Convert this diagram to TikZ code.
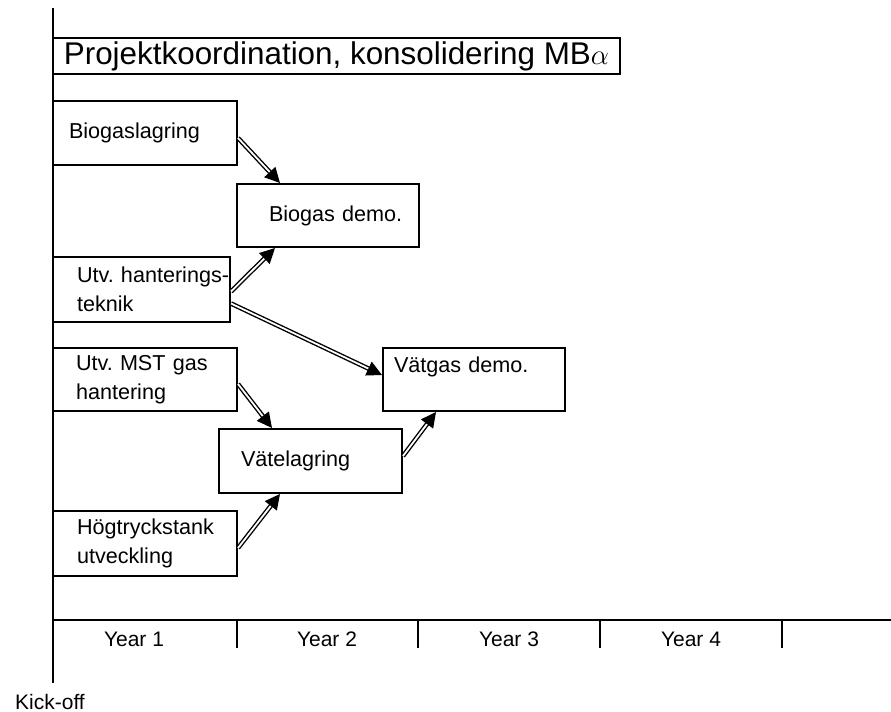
\documentclass[tikz,border=0pt]{standalone}
\usepackage{fontspec}
\setmainfont{Liberation Sans}
\usetikzlibrary{arrows.meta}

\tikzset{
  task/.style={draw, line width=1pt, rectangle, anchor=north west, align=left,
    inner ysep=0pt, font=\fontsize{10.8pt}{14.5pt}\selectfont\frenchspacing},
  link/.style={double, line width=0.7pt, double distance=0.9pt,
    -{Triangle[length=7.5pt,width=7.5pt]}},
  axis/.style={line width=1.3pt},
  tick/.style={line width=0.6pt},
  yearlabel/.style={font=\fontsize{10.5pt}{12pt}\selectfont, inner sep=1pt}
}

\begin{document}
\begin{tikzpicture}[x=0.5pt,y=-0.5pt]
	\useasboundingbox (0,0) rectangle (891,712);

	% time axes
	\coordinate (axTop) at (53,8);
	\coordinate (axBot) at (53,683);
	\coordinate (axLeft) at (53,620);
	\coordinate (axRight) at (891,620);
	\draw[axis] (axTop) -- (axBot);
	\draw[axis] (axLeft) -- (axRight);
	\foreach \x in {237,418,600,782}
		\draw[tick] (\x,620) -- (\x,648);
	\foreach \x/\n in {134/1,327/2,509/3,691/4}
		\node[yearlabel] (year\n) at (\x,639) {Year \n};
	\node[yearlabel] (kickoff) at (50,702) {Kick-off};

	% boxes
	\node[task, align=center, inner xsep=0pt, minimum width=283.5pt, minimum height=18pt,
		font=\fontsize{15.7pt}{18pt}\selectfont] (koord) at (52,37)
		{Projektkoordination, konsolidering MB$\alpha$};

	\node[task, inner xsep=8pt, text width=76pt, minimum height=32pt] (bioLager) at (52,100)
		{Biogaslagring};
	\node[task, inner xsep=16pt, text width=59pt, minimum height=31.5pt] (bioDemo) at (236,183)
		{\mbox{Biogas demo.}};
	\node[task, inner xsep=12pt, text width=64.5pt, minimum height=32.5pt] (hantering) at (52,256)
		{\mbox{Utv. hanterings-}\\teknik};
	\node[task, inner xsep=11.5pt, text width=69pt, minimum height=31.5pt] (mstGas) at (52,347)
		{\mbox{Utv. MST gas}\\hantering};
	\node[task, inner xsep=5.5pt, text width=80pt, minimum height=31.5pt] (vatgasDemo) at (382,347)
		{\mbox{Vätgas demo.}\\\mbox{}};
	\node[task, inner xsep=11pt, text width=69.5pt, minimum height=32pt] (vateLager) at (218,428)
		{Vätelagring};
	\node[task, inner xsep=12pt, text width=68pt, minimum height=32.5pt] (hogtryck) at (52,510)
		{\mbox{Högtryckstank}\\utveckling};

	% links
	\draw[link] ([yshift=-2.5pt]bioLager.east) -- ([xshift=22pt]bioDemo.north west);
	\draw[link] ([yshift=-1pt]hantering.east) -- ([xshift=19.5pt]bioDemo.south west);
	\draw[link] ([yshift=-7pt]hantering.east) -- ([yshift=2.25pt]vatgasDemo.west);
	\draw[link] ([yshift=-2.25pt]mstGas.east) -- ([xshift=27pt]vateLager.north west);
	\draw[link] ([yshift=-2.25pt]hogtryck.east) -- ([xshift=31pt]vateLager.south west);
	\draw[link] ([yshift=2.5pt]vateLager.east) -- ([xshift=27pt]vatgasDemo.south west);
\end{tikzpicture}
\end{document}
